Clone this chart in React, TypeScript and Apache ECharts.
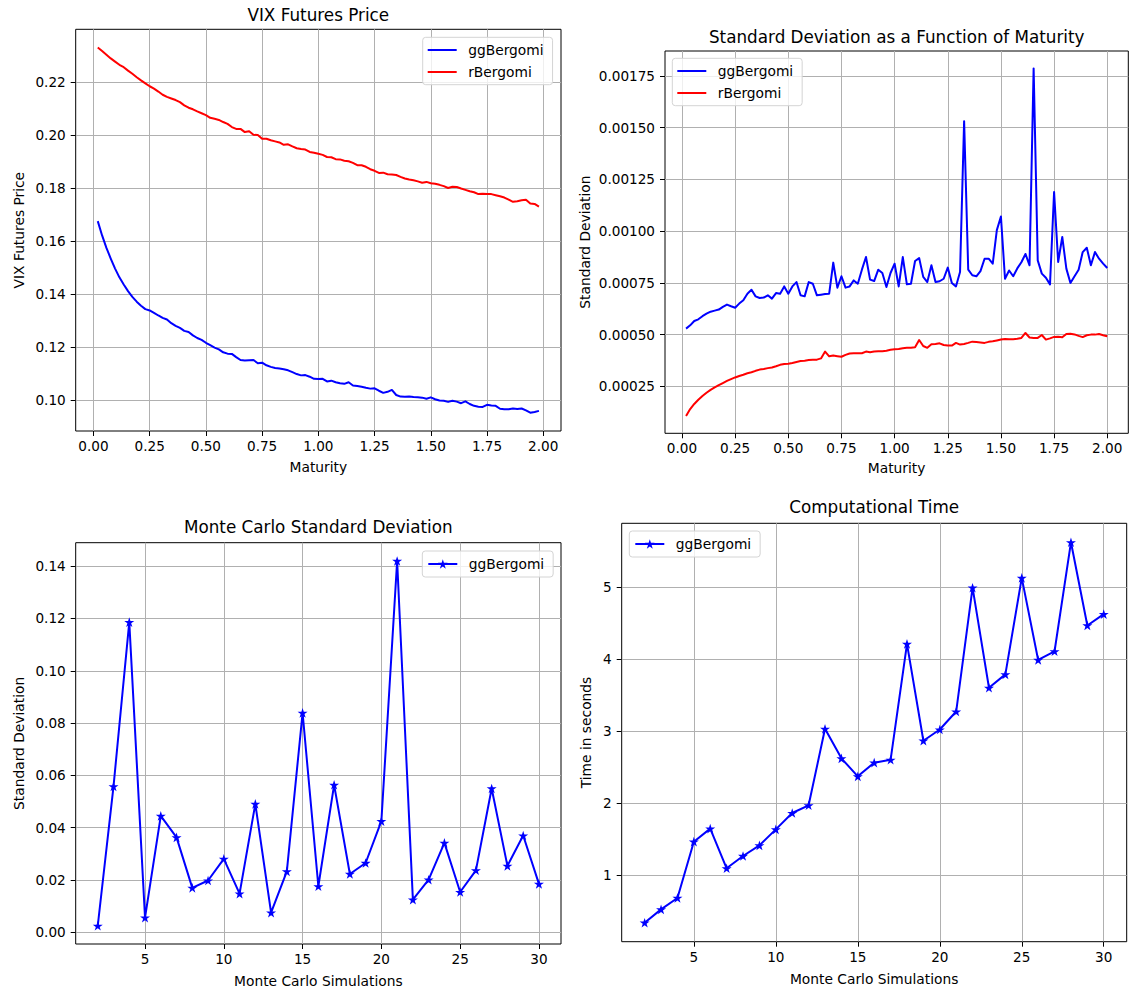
import React, { useEffect, useRef } from "react";
import * as echarts from "echarts";

// Maturity grid (weekly steps, in years)
const MATURITY = [
  0.0192, 0.0385, 0.0577, 0.0769, 0.0962, 0.1154, 0.1346, 0.1538, 0.1731, 0.1923,
  0.2115, 0.2308, 0.25, 0.2692, 0.2885, 0.3077, 0.3269, 0.3462, 0.3654, 0.3846,
  0.4038, 0.4231, 0.4423, 0.4615, 0.4808, 0.5, 0.5192, 0.5385, 0.5577, 0.5769,
  0.5962, 0.6154, 0.6346, 0.6538, 0.6731, 0.6923, 0.7115, 0.7308, 0.75, 0.7692,
  0.7885, 0.8077, 0.8269, 0.8462, 0.8654, 0.8846, 0.9038, 0.9231, 0.9423, 0.9615,
  0.9808, 1.0, 1.0192, 1.0385, 1.0577, 1.0769, 1.0962, 1.1154, 1.1346, 1.1538,
  1.1731, 1.1923, 1.2115, 1.2308, 1.25, 1.2692, 1.2885, 1.3077, 1.3269, 1.3462,
  1.3654, 1.3846, 1.4038, 1.4231, 1.4423, 1.4615, 1.4808, 1.5, 1.5192, 1.5385,
  1.5577, 1.5769, 1.5962, 1.6154, 1.6346, 1.6538, 1.6731, 1.6923, 1.7115, 1.7308,
  1.75, 1.7692, 1.7885, 1.8077, 1.8269, 1.8462, 1.8654, 1.8846, 1.9038, 1.9231,
  1.9423, 1.9615, 1.9808, 2.0,
];

// VIX futures price (first 103 maturities)
const VIX_GG = [
  0.1676, 0.1622, 0.1575, 0.1535, 0.1497, 0.1464, 0.1437, 0.1412, 0.139, 0.1372,
  0.1357, 0.1344, 0.1339, 0.133, 0.132, 0.1311, 0.1305, 0.1291, 0.1281, 0.1273,
  0.1262, 0.1258, 0.1245, 0.1235, 0.1228, 0.1217, 0.1208, 0.1199, 0.1192, 0.1181,
  0.1176, 0.1175, 0.1163, 0.1152, 0.115, 0.1151, 0.1152, 0.114, 0.1142, 0.1132,
  0.1126, 0.1122, 0.112, 0.1117, 0.1113, 0.1106, 0.1099, 0.1094, 0.1095, 0.1089,
  0.1081, 0.108, 0.1081, 0.1071, 0.1074, 0.1068, 0.1064, 0.1062, 0.1068, 0.1056,
  0.1054, 0.1051, 0.1047, 0.1044, 0.1045, 0.1036, 0.1028, 0.1032, 0.1039, 0.102,
  0.1014, 0.1013, 0.1014, 0.1012, 0.1011, 0.101, 0.1006, 0.1011, 0.1004, 0.0999,
  0.0998, 0.0994, 0.0998, 0.0995, 0.0989, 0.0996, 0.0986, 0.0979, 0.0976, 0.0975,
  0.0983, 0.098, 0.0979, 0.0968, 0.0966, 0.0966, 0.0969, 0.0967, 0.0969, 0.0962,
  0.0953, 0.0956, 0.096,
];
const VIX_R = [
  0.2331, 0.2318, 0.2304, 0.229, 0.2278, 0.2266, 0.2257, 0.2244, 0.2232, 0.2219,
  0.2207, 0.2196, 0.2185, 0.2176, 0.2165, 0.2153, 0.2145, 0.2139, 0.2133, 0.2125,
  0.2113, 0.2104, 0.2098, 0.209, 0.2083, 0.2076, 0.2066, 0.2062, 0.2058, 0.205,
  0.2043, 0.2031, 0.2024, 0.2024, 0.2012, 0.2015, 0.2002, 0.2001, 0.1987, 0.1987,
  0.1981, 0.1977, 0.1973, 0.1964, 0.1966, 0.1958, 0.1951, 0.1948, 0.1946, 0.1937,
  0.1934, 0.193, 0.1926, 0.1918, 0.1917, 0.191, 0.1909, 0.1904, 0.1902, 0.1896,
  0.1887, 0.1887, 0.1881, 0.1872, 0.1866, 0.1858, 0.1859, 0.1853, 0.1852, 0.185,
  0.1843, 0.1837, 0.1833, 0.183, 0.1826, 0.1821, 0.1824, 0.1819, 0.1817, 0.1813,
  0.1808, 0.1801, 0.1806, 0.1805, 0.1799, 0.1794, 0.1789, 0.1785, 0.1778, 0.1779,
  0.1778, 0.1778, 0.1774, 0.177, 0.1765, 0.1757, 0.1749, 0.1751, 0.1755, 0.1757,
  0.1743, 0.1741, 0.1731,
];

// Standard deviation as a function of maturity (104 maturities)
const STD_GG = [
  0.000529, 0.000545, 0.000566, 0.000574, 0.000589, 0.000601, 0.000611, 0.000616, 0.000621, 0.000634,
  0.000645, 0.000637, 0.00063, 0.00065, 0.000666, 0.000698, 0.000717, 0.000685, 0.000677, 0.000679,
  0.00069, 0.000674, 0.000701, 0.000698, 0.000733, 0.000698, 0.000733, 0.000754, 0.00069, 0.000685,
  0.000754, 0.000746, 0.00069, 0.000693, 0.000696, 0.000698, 0.000848, 0.000727, 0.000782, 0.000727,
  0.000733, 0.000762, 0.000746, 0.000814, 0.000875, 0.000766, 0.000759, 0.000814, 0.000798, 0.00073,
  0.000798, 0.000843, 0.000733, 0.000875, 0.000743, 0.000746, 0.000856, 0.00087, 0.000779, 0.000754,
  0.000835, 0.000754, 0.000758, 0.00077, 0.000824, 0.00075, 0.000733, 0.000803, 0.001532, 0.000814,
  0.000787, 0.000782, 0.000807, 0.000867, 0.000867, 0.000843, 0.001005, 0.001071, 0.00077, 0.00081,
  0.000782, 0.00082, 0.00085, 0.00089, 0.000835, 0.001787, 0.000859, 0.000795, 0.000775, 0.000743,
  0.001189, 0.000851, 0.000972, 0.000819, 0.00075, 0.000782, 0.000814, 0.000899, 0.00092, 0.000835,
  0.000899, 0.000867, 0.000843, 0.000822,
];
const STD_R = [
  0.000107, 0.00014, 0.000165, 0.000185, 0.000203, 0.000219, 0.000233, 0.000245, 0.000256, 0.000266,
  0.000276, 0.000285, 0.000293, 0.0003, 0.000306, 0.000313, 0.000318, 0.000325, 0.000331, 0.000334,
  0.000338, 0.000341, 0.000347, 0.000354, 0.000358, 0.000359, 0.000363, 0.000368, 0.000372, 0.000374,
  0.000377, 0.000379, 0.000379, 0.000385, 0.000418, 0.000395, 0.000399, 0.000396, 0.000393, 0.000402,
  0.000409, 0.00041, 0.00041, 0.00041, 0.000418, 0.000415, 0.000418, 0.00042, 0.00042, 0.000422,
  0.000427, 0.000429, 0.00043, 0.000434, 0.000436, 0.000437, 0.000439, 0.000474, 0.000445, 0.000436,
  0.000453, 0.000455, 0.000458, 0.00045, 0.000447, 0.000447, 0.00046, 0.000452, 0.000455, 0.00046,
  0.000466, 0.000464, 0.000462, 0.00046, 0.000465, 0.000468, 0.000472, 0.000476, 0.000479, 0.000478,
  0.000478, 0.00048, 0.000484, 0.000508, 0.000486, 0.000484, 0.000484, 0.000498, 0.000476, 0.000482,
  0.000489, 0.00049, 0.000487, 0.000503, 0.000504, 0.000501, 0.000494, 0.000488, 0.000497, 0.0005,
  0.0005, 0.000503, 0.000497, 0.000492,
];

// Monte Carlo experiments
const MC_SIMS = [2, 3, 4, 5, 6, 7, 8, 9, 10, 11, 12, 13, 14, 15, 16, 17, 18, 19, 20, 21, 22, 23, 24, 25, 26, 27, 28, 29, 30];
const MC_STD = [
  0.0025, 0.0558, 0.1186, 0.0056, 0.0445, 0.0363, 0.017, 0.0198, 0.0281, 0.0148,
  0.0491, 0.0075, 0.0233, 0.0839, 0.0176, 0.0564, 0.0223, 0.0265, 0.0425, 0.142,
  0.0125, 0.0201, 0.0342, 0.0154, 0.0237, 0.055, 0.0254, 0.037, 0.0185,
];
const MC_TIME = [
  0.338, 0.523, 0.681, 1.463, 1.644, 1.093, 1.264, 1.412, 1.634, 1.861,
  1.968, 3.03, 2.62, 2.37, 2.56, 2.6, 4.21, 2.865, 3.02, 3.27,
  4.99, 3.6, 3.786, 5.126, 3.986, 4.107, 5.62, 4.465, 4.623,
];

// Tick labels
const MATURITY_TICKS = [0, 0.25, 0.5, 0.75, 1.0, 1.25, 1.5, 1.75, 2.0];
const VIX_TICKS = [0.1, 0.12, 0.14, 0.16, 0.18, 0.2, 0.22];
const STD_TICKS = [0.00025, 0.0005, 0.00075, 0.001, 0.00125, 0.0015, 0.00175];
const SIM_TICKS = [5, 10, 15, 20, 25, 30];
const MC_STD_TICKS = [0, 0.02, 0.04, 0.06, 0.08, 0.1, 0.12, 0.14];
const TIME_TICKS = [1, 2, 3, 4, 5];

const FONT = "DejaVu Sans";
const TICK_SIZE = 13.6;
const LABEL_SIZE = 13.8;
const TITLE_SIZE = 16.8;
const TEXT = "#000000";

const STAR =
  "path://M0,-1 L-0.2245,-0.309 L-0.9511,-0.309 L-0.3633,0.118 L-0.5878,0.809 L0,0.382 L0.5878,0.809 L0.3633,0.118 L0.9511,-0.309 L0.2245,-0.309 Z";

function limits(values: number[]): [number, number] {
  let lo = Infinity;
  let hi = -Infinity;
  for (const v of values) {
    if (v < lo) lo = v;
    if (v > hi) hi = v;
  }
  const pad = (hi - lo) * 0.05;
  return [lo - pad, hi + pad];
}

function axis(
  gridIndex: number,
  lim: [number, number],
  ticks: number[],
  fmt: (v: number) => string,
  name: string,
  nameGap: number,
  margin: number
) {
  return {
    type: "value",
    gridIndex,
    min: lim[0],
    max: lim[1],
    name,
    nameLocation: "middle",
    nameGap,
    nameTextStyle: { color: TEXT, fontSize: LABEL_SIZE, fontFamily: FONT },
    axisLine: { show: false, onZero: false },
    axisTick: {
      show: true,
      customValues: ticks,
      length: 5,
      lineStyle: { color: "#000", width: 1 },
    },
    axisLabel: {
      customValues: ticks,
      formatter: (v: number) => fmt(v),
      color: TEXT,
      fontSize: TICK_SIZE,
      fontFamily: FONT,
      margin,
    },
    splitLine: { show: true, lineStyle: { color: "#b0b0b0", width: 1 } },
  };
}

const LEGEND_BASE = {
  orient: "vertical",
  selectedMode: false,
  itemWidth: 29,
  itemGap: 7,
  padding: [5.2, 9, 5.2, 5],
  backgroundColor: "rgba(255,255,255,0.8)",
  borderColor: "#d4d4d4",
  borderWidth: 1,
  borderRadius: 3,
  itemStyle: { borderWidth: 0 },
  textStyle: {
    color: TEXT,
    fontSize: LABEL_SIZE,
    fontFamily: FONT,
    lineHeight: 15,
    padding: [0, 0, 0, 6.5],
  },
};

const LEGEND_NAMES: Record<string, string> = {
  ggBergomi: "ggBergomi",
  rBergomi: "rBergomi",
  mcStd: "ggBergomi",
  mcTime: "ggBergomi",
};

function title(text: string, cx: number, cy: number) {
  return {
    text,
    left: cx,
    top: cy - 10,
    textAlign: "center",
    padding: 0,
    textStyle: {
      color: TEXT,
      fontSize: TITLE_SIZE,
      fontWeight: "normal",
      fontFamily: FONT,
      lineHeight: 20,
    },
  };
}

export default function App() {
  const ref = useRef<HTMLDivElement | null>(null);

  useEffect(() => {
    if (!ref.current) return;
    const chart = echarts.init(ref.current, null, { renderer: "svg" });

    const vixX = MATURITY.slice(0, VIX_GG.length);
    const vixData = (ys: number[]) => ys.map((y, i) => [vixX[i], y]);
    const stdData = (ys: number[]) => ys.map((y, i) => [MATURITY[i], y]);
    const mcData = (ys: number[]) => ys.map((y, i) => [MC_SIMS[i], y]);

    const f2 = (v: number) => v.toFixed(2);
    const f5 = (v: number) => v.toFixed(5);
    const f0 = (v: number) => String(Math.round(v));

    const lineSeries = (
      name: string,
      xi: number,
      data: number[][],
      color: string
    ) => ({
      type: "line",
      name,
      xAxisIndex: xi,
      yAxisIndex: xi,
      data,
      symbol: "none",
      showSymbol: false,
      silent: true,
      clip: true,
      lineStyle: { color, width: 2, join: "round" },
      itemStyle: { color, borderWidth: 0 },
    });

    const starSeries = (name: string, xi: number, data: number[][]) => ({
      type: "line",
      name,
      xAxisIndex: xi,
      yAxisIndex: xi,
      data,
      symbol: STAR,
      symbolSize: [10, 9.6],
      showSymbol: true,
      silent: true,
      lineStyle: { color: "#0000ff", width: 2, join: "round" },
      itemStyle: { color: "#0000ff", borderWidth: 0 },
    });

    const gridBase = {
      show: true,
      borderColor: "#000",
      borderWidth: 1,
      backgroundColor: "transparent",
      containLabel: false,
      outerBoundsMode: "none",
    };

    const option: any = {
      animation: false,
      backgroundColor: "#ffffff",
      textStyle: { fontFamily: FONT },
      title: [
        title("VIX Futures Price", 318.3, 15),
        title("Standard Deviation as a Function of Maturity", 896.7, 36.7),
        title("Monte Carlo Standard Deviation", 318.3, 527.3),
        title("Computational Time", 874.2, 507.3),
      ],
      grid: [
        { ...gridBase, left: 75.7, top: 29.3, width: 485.3, height: 401.7 },
        { ...gridBase, left: 665, top: 51, width: 463.3, height: 382.3 },
        { ...gridBase, left: 75.7, top: 542.7, width: 485.3, height: 401.3 },
        { ...gridBase, left: 621.7, top: 523.3, width: 505, height: 418.4 },
      ],
      xAxis: [
        axis(0, limits(vixX), MATURITY_TICKS, f2, "Maturity", 29, 8),
        axis(1, limits(MATURITY), MATURITY_TICKS, f2, "Maturity", 28, 8),
        axis(2, limits(MC_SIMS), SIM_TICKS, f0, "Monte Carlo Simulations", 29.5, 8),
        axis(3, limits(MC_SIMS), SIM_TICKS, f0, "Monte Carlo Simulations", 30, 8),
      ],
      yAxis: [
        axis(0, limits([...VIX_GG, ...VIX_R]), VIX_TICKS, f2, "VIX Futures Price", 50, 10),
        axis(1, limits([...STD_GG, ...STD_R]), STD_TICKS, f5, "Standard Deviation", 73, 10),
        axis(2, limits(MC_STD), MC_STD_TICKS, f2, "Standard Deviation", 50, 10),
        axis(3, limits(MC_TIME), TIME_TICKS, f0, "Time in seconds", 29, 10),
      ],
      legend: [
        {
          ...LEGEND_BASE,
          left: 422.7,
          top: 37.3,
          itemHeight: 2,
          data: [
            { name: "ggBergomi", icon: "rect" },
            { name: "rBergomi", icon: "rect" },
          ],
          formatter: (n: string) => LEGEND_NAMES[n] ?? n,
        },
        {
          ...LEGEND_BASE,
          left: 672.3,
          top: 58.3,
          itemHeight: 2,
          data: [
            { name: "ggBergomi", icon: "rect" },
            { name: "rBergomi", icon: "rect" },
          ],
          formatter: (n: string) => LEGEND_NAMES[n] ?? n,
        },
        {
          ...LEGEND_BASE,
          left: 422.3,
          top: 551,
          itemHeight: 12,
          padding: [5.5, 9, 5.5, 5],
          itemStyle: { borderWidth: 0 },
          data: [{ name: "mcStd" }],
          formatter: (n: string) => LEGEND_NAMES[n] ?? n,
        },
        {
          ...LEGEND_BASE,
          left: 629.3,
          top: 531,
          itemHeight: 12,
          padding: [5.5, 9, 5.5, 5],
          itemStyle: { borderWidth: 0 },
          data: [{ name: "mcTime" }],
          formatter: (n: string) => LEGEND_NAMES[n] ?? n,
        },
      ],
      series: [
        lineSeries("ggBergomi", 0, vixData(VIX_GG), "#0000ff"),
        lineSeries("rBergomi", 0, vixData(VIX_R), "#ff0000"),
        lineSeries("ggBergomi", 1, stdData(STD_GG), "#0000ff"),
        lineSeries("rBergomi", 1, stdData(STD_R), "#ff0000"),
        starSeries("mcStd", 2, mcData(MC_STD)),
        starSeries("mcTime", 3, mcData(MC_TIME)),
      ],
    };

    chart.setOption(option);
    return () => {
      chart.dispose();
    };
  }, []);

  return (
    <div
      ref={ref}
      style={{
        position: "absolute",
        left: 0,
        top: 0,
        width: 1129,
        height: 994,
        background: "#ffffff",
      }}
    />
  );
}
